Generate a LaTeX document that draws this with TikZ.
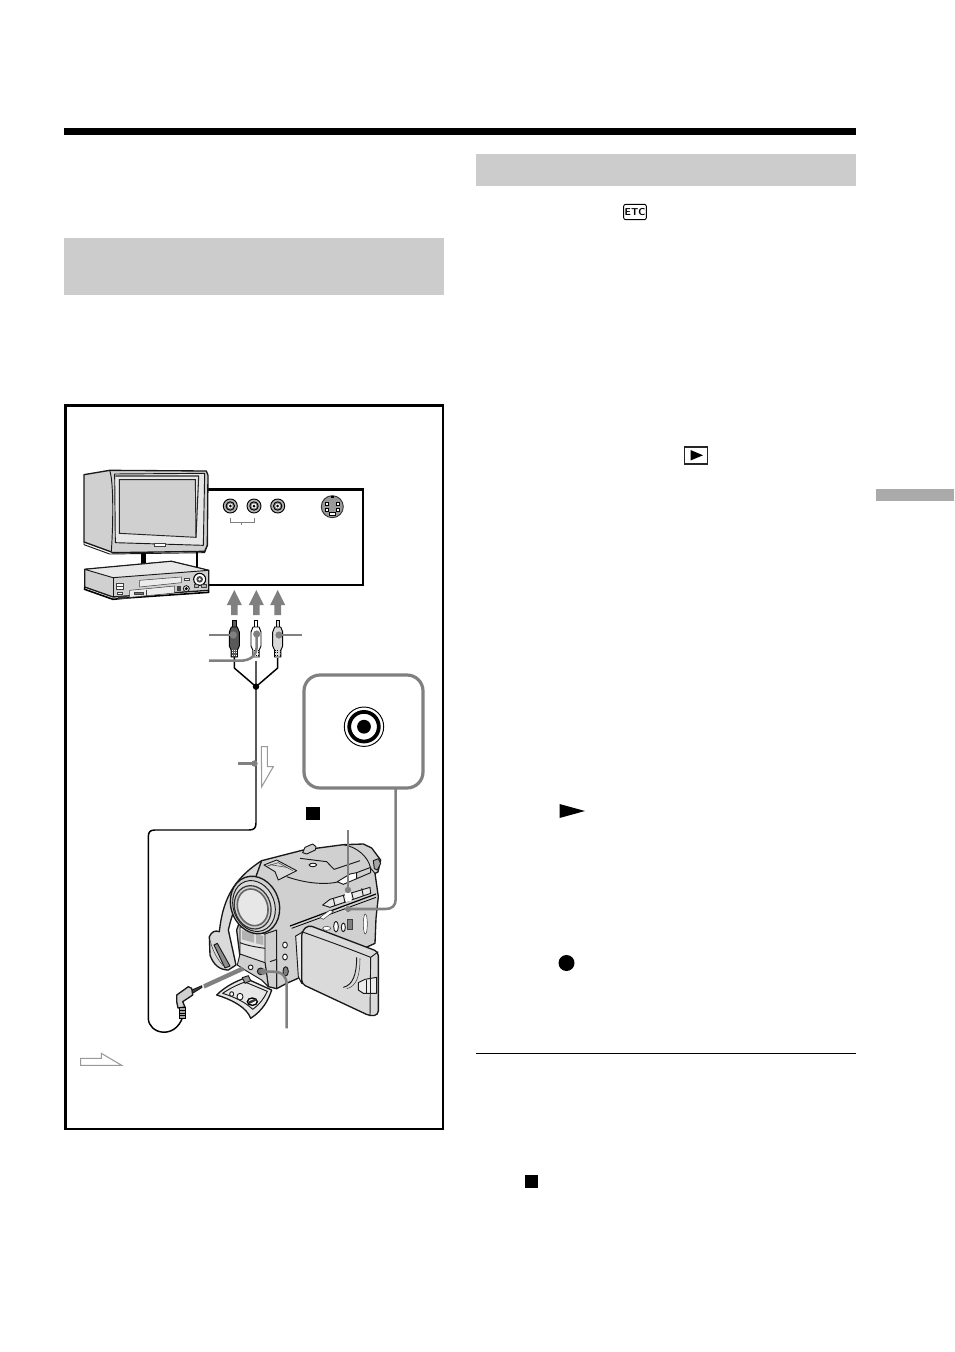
\documentclass[tikz,border=0pt]{standalone}
\usepackage{tikz}
\usetikzlibrary{arrows.meta}
\definecolor{barGrey}{RGB}{204,204,204}
\definecolor{tabGrey}{RGB}{170,170,170}
\definecolor{leadGrey}{RGB}{128,128,128}
\definecolor{bodyGrey}{RGB}{208,208,208}
\definecolor{lcdGrey}{RGB}{218,218,218}
\tikzset{
  pencil/.style={draw=black!90,line width=0.7pt,line join=round},
  fine/.style={draw=black!75,line width=0.4pt},
  cable/.style={draw=black,line width=1.1pt},
  leader/.style={draw=leadGrey,line width=1.9pt},
  thinleader/.style={draw=leadGrey,line width=1.3pt},
  leaddot/.style={fill=leadGrey,draw=none},
  hollow/.style={draw=leadGrey!80,line width=0.8pt,fill=white}
}

\begin{document}
\begin{tikzpicture}[x=0.75pt,y=0.75pt,yscale=-1,xscale=1]
\useasboundingbox (0,0) rectangle (954,1352);

%Page bars
\fill [black] (64,128) rectangle (856,135);
\fill [barGrey] (476,154) rectangle (856,186);
\fill [barGrey] (64,238) rectangle (444,295);
\fill [tabGrey] (876,489) rectangle (954,501);
\draw [black,line width=0.75pt] (476,1053) -- (856,1053);
\draw [black,line width=1.6pt] (65.5,405.5) rectangle (443,1129);

%Icons in the right column
\node (etcicon) [draw=black,line width=0.7pt,rounded corners=1.5pt,minimum width=17pt,minimum height=11.5pt,inner sep=0pt,font=\sffamily\bfseries\fontsize{7.5}{8}\selectfont] at (635,212) {ETC};
\draw [black!85,line width=1.2pt] (684.5,447) rectangle (707.5,464);
\fill [black] (690.5,450) -- (703,455.3) -- (690.5,460.5) -- cycle;
\fill [black] (559.5,804) -- (585,811) -- (559.5,818) -- cycle;
\fill [black] (566.5,963) circle (8);
\fill [black] (524.7,1174.7) rectangle (538,1188);

%Connection panel
\draw [black,line width=1.6pt] (208,489.5) -- (363,489.5) -- (363,585) -- (208,585);

%TV and VCR
\begin{scope}[shift={(78,462)},scale=1/3]
\draw [pencil,fill=bodyGrey,line width=1pt] (18,38) -- (95,25) -- (385,27) -- (390,40) -- (388,250) -- (380,268) -- (105,272) -- (95,268) -- (18,240) -- cycle;
\draw [pencil] (95,25) .. controls (108,60) and (105,200) .. (100,268);
\draw [pencil,fill=white!50!bodyGrey] (110,36) -- (380,34) -- (376,250) -- (112,242) -- cycle;
\draw [black!85,line width=0.7pt,fill=bodyGrey] (124,53) -- (352,53) -- (354,226) -- (124,214) -- cycle;
\draw [black!85,line width=0.8pt] (112,42) -- (362,42) -- (354,226);
\draw [fine,fill=white] (228,245) rectangle (262,252);
\draw [pencil] (18,240) -- (18,248) -- (95,276) -- (380,272) -- (388,250);
\fill [black] (188,274) rectangle (205,306);
\draw [black,line width=1.6pt] (357,270) -- (357,322);
\draw [pencil,fill=bodyGrey,line width=1pt] (20,322) -- (280,298) -- (392,325) -- (392,385) -- (145,402) -- (105,405) -- (20,375) -- cycle;
\draw [pencil,fill=white!50!bodyGrey] (20,322) -- (280,298) -- (392,325) -- (105,347) -- cycle;
\draw [pencil] (105,347) -- (105,405);
\draw [black,line width=1.2pt] (20,375) -- (20,382) -- (105,412) -- (145,408) -- (392,391) -- (392,385);
\draw [fine,fill=white!60!bodyGrey] (185,355) -- (310,345) -- (310,362) -- (185,375) -- cycle;
\draw [fine,fill=white!60!bodyGrey] (155,385) -- (290,372) -- (290,393) -- (155,406) -- cycle;
\draw [fine] (205,383) -- (205,403);
\draw [fine,fill=black!55] (168,390) rectangle (196,398);
\draw [fine,fill=white] (115,365) rectangle (135,383);
\draw [fine] (115,374) -- (135,374);
\draw [fine,fill=white] (117,390) rectangle (134,397);
\fill [black!80] (120,403) rectangle (146,411);
\draw [fine,fill=white] (318,349) rectangle (335,356);
\draw [black,line width=0.8pt,fill=white] (365,352) circle (18);
\fill [black!70] (365,352) circle (10);
\fill [white] (365,352) circle (4);
\draw [pencil,fill=white] (325,380) circle (9);
\fill [black] (325,380) circle (5);
\fill [black!75] (297,373) rectangle (308,388);
\draw [fine,fill=black!30] (350,368) rectangle (362,376);
\draw [fine,fill=black!30] (370,366) rectangle (384,375);
\end{scope}

%Sockets
\foreach \sx/\sy in {230.3/506,254/506,277.7/506}{
  \draw [black,line width=0.7pt,fill=black!30] (\sx,\sy) circle (7);
  \draw [black,line width=0.7pt,fill=black!45] (\sx,\sy) circle (4.2);
  \fill [white] (\sx,\sy) circle (2.4);
  \fill [black] (\sx,\sy) circle (1.5);
}
\draw [thinleader,line width=0.5pt] (230.3,518) -- (230.3,522) -- (254.3,522) -- (254.3,518);
\draw [thinleader,line width=0.5pt] (241.5,522) -- (241.5,525);
\draw [black!80,line width=0.7pt,fill=black!40] (332.3,506.7) circle (11);
\fill [black] (330.8,495.5) rectangle (333.8,498);
\foreach \pinx/\piny in {327/503.5,337.6/503.5,327/509.5,337.6/509.5}{
  \draw [black,line width=0.5pt,fill=white] (\pinx-1.7,\piny-1.5) rectangle (\pinx+1.7,\piny+1.5);
}
\draw [black,line width=0.5pt,fill=white] (329,512.5) rectangle (335.6,515.5);

%Up arrows
\foreach \ax in {234.3,256.3,277.7}{
  \fill [leadGrey] (\ax,590) -- (\ax+7.5,605) -- (\ax+3.3,605) -- (\ax+3.3,615) -- (\ax-3.3,615) -- (\ax-3.3,605) -- (\ax-7.5,605) -- cycle;
}

%Cable and Y branch
\coordinate (junction) at (256,686.7);
\draw [cable] (234.3,657) -- (234.3,668) -- (junction) -- (277.7,668) -- (277.7,658);
\draw [cable] (256,661) -- (junction) -- (256,823) .. controls (256,828) and (254,830) .. (249,830) -- (155,830) .. controls (150,830) and (148.3,832) .. (148.3,837) -- (148.3,1018) .. controls (148.3,1034) and (175,1040) .. (182.7,1017);
\fill [black] (junction) circle (3.2);

%Plugs
\foreach \px/\pf/\pt in {234.3/black!65/white,256/white/black,277.7/black!15/black}{
  \draw [black,line width=0.7pt,fill=\pf] (\px-1.7,627) -- (\px-1.7,620.5) -- (\px+1.7,620.5) -- (\px+1.7,627) -- cycle;
  \draw [black,line width=0.7pt,fill=\pf] (\px-3,627) -- (\px+3,627) -- (\px+5,632) -- (\px+5,646) -- (\px+3.2,650) -- (\px+3.2,657) -- (\px-3.2,657) -- (\px-3.2,650) -- (\px-5,646) -- (\px-5,632) -- cycle;
  \foreach \ry in {650.5,652.8,655.1}{
    \draw [\pt,line width=0.6pt,densely dotted] (\px-2.4,\ry) -- (\px+2.4,\ry);
  }
}

%Plug labels leaders
\draw [leader] (209,635) -- (233.3,635);
\fill [leaddot] (233.3,635) circle (3.6);
\draw [leader] (301.7,635) -- (279,635);
\fill [leaddot] (279,635) circle (3.6);
\draw [leader] (209,660.7) -- (240,660.7) .. controls (250,660.7) and (256.7,656) .. (256.7,646) -- (256.7,634);
\fill [leaddot] (256.7,634) circle (3.6);

%Signal arrow on cable
\draw [leader] (238,763.5) -- (254,763.5);
\fill [leaddot] (254.5,763.5) circle (3.2);
\draw [hollow] (261.3,746.7) -- (267.3,746.7) -- (267.3,766.7) -- (273.3,766.7) -- (261.7,786.7) -- cycle;
\draw [hollow] (80.7,1058.3) -- (101.3,1058.3) -- (101.3,1053.3) -- (121.7,1065.3) -- (80.7,1065.3) -- cycle;

%Enlarged jack
\draw [draw=leadGrey,line width=2.4pt,fill=white,rounded corners=12pt] (304,675) rectangle (423,788);
\draw [black,line width=0.7pt] (364,726.7) circle (19.7);
\draw [black,line width=2.8pt] (364,726.7) circle (14.8);
\fill [black] (364,726.7) circle (6.9);

%Stop mark
\fill [black] (306.3,806.7) rectangle (319.7,820);

%Camcorder
\begin{scope}[shift={(130,830)},scale=1/3]
%strap and grip
\draw [pencil,fill=lcdGrey,line width=1pt] (268,305) .. controls (278,215) and (305,150) .. (395,92) -- (425,118) .. controls (345,150) and (315,215) .. (295,300) -- (318,405) -- (295,420) .. controls (270,420) and (250,405) .. (240,375) -- (238,320) .. controls (245,305) and (255,300) .. (268,305) -- cycle;
\draw [pencil,fill=black!45] (252,345) -- (262,340) -- (300,408) -- (285,414) -- cycle;
\draw [fine] (240,330) .. controls (250,370) and (265,390) .. (280,408);
%body
\draw [pencil,fill=bodyGrey,line width=1pt] (395,92) -- (520,60) -- (640,44) -- (700,42) -- (725,54) -- (752,90) -- (744,126) -- (735,130) -- (745,200) -- (738,265) -- (735,340) -- (560,420) -- (470,460) -- (440,476) -- (415,470) -- (405,400) -- (330,380) -- (320,300) -- cycle;
\draw [pencil,fill=black!35] (730,92) -- (745,86) -- (752,100) -- (742,120) -- (733,116) -- cycle;
\draw [pencil] (640,44) .. controls (680,50) and (715,80) .. (722,115) -- (735,130);
%top surface
\draw [pencil] (510,85) -- (590,95) -- (612,118) -- (690,92);
\draw [pencil] (470,140) .. controls (540,165) and (610,165) .. (640,150) -- (722,115);
\draw [pencil,fill=white] (537,105) .. controls (540,98) and (558,98) .. (560,104) .. controls (558,112) and (540,112) .. (537,105) -- cycle;
\draw [pencil,fill=bodyGrey] (518,68) -- (525,52) -- (548,42) -- (558,50) -- (556,60) -- (530,72) -- cycle;
\draw [pencil,fill=lcdGrey] (402,105) -- (440,90) -- (500,122) -- (445,150) -- (435,125) -- cycle;
\draw [fine] (412,108) -- (445,98) -- (488,122);
\draw [fine] (420,104) -- (470,112);
%control row
\draw [pencil,fill=white] (622,155) -- (660,132) -- (680,128) -- (680,146) -- (640,163) -- cycle;
\draw [pencil,fill=bodyGrey] (680,128) -- (722,112) -- (722,128) -- (680,146) -- cycle;
\draw [pencil,fill=white!50!bodyGrey] (578,225) -- (600,208) -- (720,172) -- (722,190) -- (600,232) -- cycle;
\draw [pencil] (610,205) -- (615,228) (640,195) -- (645,218) (665,188) -- (670,208) (695,175) -- (700,198);
\fill [white] (645,190) -- (662,186) -- (665,212) -- (648,216) -- cycle;
\draw [black,line width=0.9pt] (480,288) -- (738,192);
\draw [black,line width=0.6pt] (485,295) -- (738,202);
\draw [fine,fill=white] (570,262) -- (600,240) -- (610,245) -- (580,268) -- cycle;
\draw [pencil,fill=white] (618,290) ellipse (7 and 16);
\draw [pencil,fill=white] (640,292) ellipse (6 and 13);
\draw [fine,fill=white] (590,295) ellipse (12 and 6);
\draw [fine,fill=black!50] (652,268) rectangle (666,298);
\draw [fine,fill=white] (706,282) ellipse (6 and 30);
\fill [white] (645,228) rectangle (660,245);
%lower front
\draw [pencil,fill=white!40!bodyGrey] (330,290) -- (405,312) -- (405,400) -- (330,380) -- cycle;
\fill [black!30] (336,300) -- (372,310) -- (372,338) -- (336,328) -- cycle;
\fill [black!30] (378,312) -- (400,318) -- (400,345) -- (378,340) -- cycle;
\draw [pencil] (330,338) .. controls (355,348) and (385,352) .. (405,355);
\draw [pencil,fill=bodyGrey] (330,372) -- (405,398) -- (415,470) -- (395,450) -- (345,420) -- (322,405) -- cycle;
\draw [pencil] (405,312) -- (440,300) -- (440,476);
\draw [pencil] (420,395) -- (440,388) -- (440,476);
\draw [pencil,fill=white] (362,412) circle (7);
\draw [pencil,fill=black!55] (392,424) circle (10);
\draw [pencil,fill=white] (465,345) ellipse (7 and 9);
\draw [pencil,fill=white] (465,381) ellipse (7 and 9);
\draw [pencil,fill=black!50] (467,424) ellipse (8 and 14);
%lens
\draw [pencil,fill=bodyGrey,line width=1pt,rotate around={-20:(375,225)}] (375,225) ellipse (72 and 88);
\draw [pencil,fill=lcdGrey,rotate around={-20:(372,228)}] (372,228) ellipse (62 and 78);
\draw [black!80,line width=0.9pt,fill=bodyGrey,rotate around={-18:(368,232)}] (368,232) ellipse (54 and 66);
\draw [black!60,line width=1.2pt,fill=white!50!bodyGrey,rotate around={-18:(368,232)}] (368,232) ellipse (45 and 56);
%flap
\draw [pencil,fill=white!50!bodyGrey,line width=1pt] (260,495) .. controls (285,470) and (315,455) .. (345,444) -- (425,480) .. controls (415,510) and (400,540) .. (362,565) .. controls (352,535) and (310,510) .. (260,495) -- cycle;
\draw [pencil] (278,490) .. controls (300,475) and (320,465) .. (345,456) -- (412,484) .. controls (402,505) and (390,522) .. (368,538) .. controls (345,515) and (310,500) .. (278,490) -- cycle;
\draw [pencil,fill=black!40] (337,443) -- (355,437) -- (362,452) -- (345,460) -- cycle;
\draw [pencil,fill=white] (305,492) ellipse (6 and 7);
\draw [pencil,fill=white] (330,500) ellipse (9 and 10);
\draw [black,line width=1pt,fill=white] (367,515) ellipse (15 and 11);
\fill [black!80] (354,515) -- (378,505) -- (380,511) -- (358,522) -- cycle;
%LCD panel
\draw [pencil,fill=white!50!bodyGrey] (497,318) -- (520,305) -- (515,460) -- (505,440) -- cycle;
\draw [pencil,fill=lcdGrey,line width=1pt,rounded corners=3pt] (515,305) -- (535,285) -- (745,365) -- (745,555) -- (720,558) -- (515,462) -- cycle;
\draw [pencil] (515,305) .. controls (600,335) and (680,365) .. (722,382) -- (720,558);
\draw [pencil] (722,382) -- (745,365);
\draw [pencil] (680,382) .. controls (680,430) and (670,465) .. (640,472);
\draw [fine] (690,385) .. controls (690,435) and (680,470) .. (650,476);
\draw [pencil,fill=white!60!bodyGrey] (685,458) -- (705,448) -- (740,442) -- (740,490) -- (700,490) -- (685,480) -- cycle;
\draw [pencil] (708,450) -- (708,490) (722,446) -- (722,490);
\end{scope}

%Camcorder leaders
\draw [leader] (395.7,789) -- (395.7,899) .. controls (395.7,906) and (392,909) .. (385,909) -- (348,909);
\fill [leaddot] (348,909) circle (3.2);
\draw [thinleader] (348,830) -- (348,890);
\fill [leaddot] (348,890) circle (3.2);
\draw [leader] (286.7,1028.3) -- (286.7,985) .. controls (286.7,976) and (282,971.7) .. (273,971.7) -- (263.5,971.7);
\fill [leaddot] (263.5,971.7) circle (3.2);
\fill [leadGrey] (203.3,984.3) -- (204.5,988.5) -- (245,970) -- (241.7,966.7) -- cycle;

%Mini plug
\draw [pencil,fill=black!75] (192,990) -- (201.7,985.8) -- (202,987.4) -- (193,993) -- cycle;
\draw [pencil,fill=bodyGrey,line width=1pt] (176.7,995) -- (188.3,986.7) -- (191.7,988.3) -- (192.7,995) -- (182.7,1001.7) -- (185,1007) -- (178,1008) -- (176.7,1001.7) -- cycle;
\draw [black,line width=0.7pt,fill=black!35] (179,1007.5) rectangle (185,1018);
\draw [black,line width=0.5pt] (179,1010.5) -- (185,1010.5) (179,1013) -- (185,1013) (179,1015.5) -- (185,1015.5);

\end{tikzpicture}
\end{document}
